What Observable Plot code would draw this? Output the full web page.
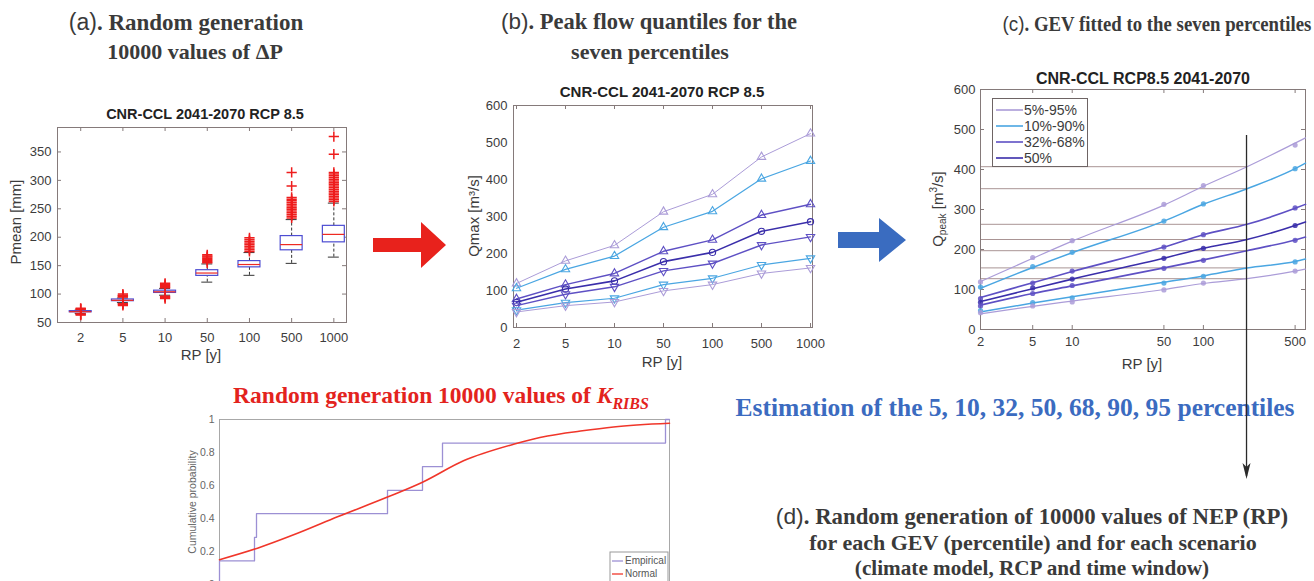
<!DOCTYPE html>
<html>
<head>
<meta charset="utf-8">
<script src="https://cdn.jsdelivr.net/npm/d3@7"></script>
<script src="https://cdn.jsdelivr.net/npm/@observablehq/plot@0.6"></script>
<style>
  body { margin: 0; background: #fff; }
  #page { position: relative; width: 1314px; height: 581px; overflow: hidden; background: #fff; }
  .txt { position: absolute; transform: translate(-50%, -50%); white-space: nowrap; line-height: 1;
         font-family: "Liberation Serif", "Times New Roman", serif; font-weight: bold; color: #3a3a3a; }
  .tag { font-family: "Liberation Sans", Arial, sans-serif; font-weight: normal; }
  .blue { color: #3b6bc0; }
  .red { color: #e3231d; }
  .legend { position: absolute; background: #fff; border: 1px solid #6e6464; box-sizing: border-box;
            font-family: "Liberation Sans", Arial, sans-serif; color: #3c3c3c; }
  .legend .row { position: absolute; left: 0; right: 0; height: 16px; display: flex; align-items: center; }
  .legend svg { flex: none; }
</style>
</head>
<body>
<div id="page"></div>
<script>
// ---------- (a) ΔP box plots per return period, mm ----------
const rpLabels = ["2", "5", "10", "50", "100", "500", "1000"];
const pMedian = [69, 89, 104, 137, 152, 187, 205];
const pQ1 = [68, 87.5, 102, 132, 147, 177, 191];
const pQ3 = [70, 90.5, 106, 142, 158, 202, 220];
const pWhiskerLow = [66, 85, 98, 121, 133, 154, 165];
const pWhiskerHigh = [72, 93, 110, 153, 173, 231, 260];
const pOutliers2 = [63, 64, 65, 73, 74, 75];
const pOutliers5 = [80, 82, 83, 95, 96, 97, 98, 100];
const pOutliers10 = [92, 94, 96, 111, 113, 115, 117, 119];
const pOutliers50 = [155, 157, 159, 161, 163, 165, 167, 169];
const pOutliers100 = [175, 178, 181, 184, 187, 190, 193, 196, 199];
const pOutliers500 = [234, 237, 240, 243, 246, 249, 252, 255, 258, 261, 264, 267, 270, 290, 314];
const pOutliers1000 = [263, 266, 269, 272, 275, 278, 281, 284, 287, 290, 293, 296, 299, 302, 305, 308, 311, 314, 346, 377];
const pOutliers = [pOutliers2, pOutliers5, pOutliers10, pOutliers50, pOutliers100, pOutliers500, pOutliers1000];
const pTicks = [50, 100, 150, 200, 250, 300, 350];

// ---------- (b) peak flow quantiles, m3/s ----------
const qmax95 = [119, 180, 222, 313, 360, 461, 524];
const qmax90 = [106, 157, 193, 271, 314, 402, 450];
const qmax68 = [77, 116, 146, 206, 237, 304, 333];
const qmax50 = [68, 104, 126, 178, 203, 260, 286];
const qmax32 = [59, 90, 110, 153, 173, 223, 245];
const qmax10 = [47, 67, 79, 116, 133, 169, 187];
const qmax5 = [42, 59, 69, 99, 116, 146, 161];
const qTicks = [0, 100, 200, 300, 400, 500, 600];

// ---------- (c) GEV fits, m3/s ----------
const rpNumeric = [2, 5, 10, 50, 100, 500];
const gevRP = [2, 5, 10, 50, 100, 215, 500, 600];
const gev95 = [120, 178, 221, 311, 358, 407, 466, 479];
const gev90 = [103, 155, 192, 271, 313, 352, 402, 416];
const gev68 = [80, 117, 145, 206, 237, 263, 303, 313];
const gev50 = [70, 102, 126, 178, 203, 225, 260, 269];
const gev32 = [61, 90, 109, 154, 174, 197, 224, 231];
const gev10 = [44, 66, 82, 118, 134, 154, 170, 176];
const gev5 = [39, 58, 71, 100, 115, 127, 146, 151];
const selectedRP = 215;
const legendLabels = ["5%-95%", "10%-90%", "32%-68%", "50%"];

// ---------- K_RIBS cumulative distribution ----------
const kSorted = [0.700, 0.735, 0.737, 0.868, 0.903, 0.923, 1.146];
const ecdfLevels = [0.143, 0.286, 0.429, 0.571, 0.714, 0.857, 1];
const kNormal = [0.700, 0.738, 0.778, 0.818, 0.868, 0.903, 0.944, 0.994, 1.028, 1.061, 1.094, 1.150];
const pNormal = [0.15, 0.22, 0.31, 0.41, 0.53, 0.62, 0.75, 0.85, 0.90, 0.93, 0.955, 0.977];
const cdfTicks = [0, 0.2, 0.4, 0.6, 0.8, 1];

// ---------- styling ----------
const sans = '"Liberation Sans", Arial, sans-serif';
const frameColor = "#857a7a";
const inkColor = "#3c3c3c";
const cLav = "#ab9cd8", cSky = "#4aa6e2", cPurple = "#5e50c4", cDeep = "#3a2eaa";
const baseStyle = { fontFamily: sans, fontSize: "13px", color: inkColor, background: "transparent", overflow: "visible" };

const page = document.getElementById("page");
function place(node, left, top) {
  node.style.position = "absolute";
  node.style.left = left + "px";
  node.style.top = top + "px";
  page.appendChild(node);
  return node;
}
function svgText(svg, x, y, text, { size = 15, weight = "normal", rotate = 0, fill = inkColor } = {}) {
  return d3.select(svg).append("text")
    .attr("transform", `translate(${x},${y}) rotate(${rotate})`)
    .attr("text-anchor", "middle").attr("dominant-baseline", "middle")
    .attr("font-family", sans).attr("font-size", size).attr("font-weight", weight)
    .attr("fill", fill).text(text);
}
// short inward tick marks on all four sides of a frame
function frameTicks(xTicks, yTicks, xDom, yDom, tick = 4) {
  const o = { stroke: frameColor, strokeWidth: 1 };
  return [
    Plot.ruleX(xTicks, { x: d => d, y1: yDom[0], y2: yDom[0], ...o, insetTop: -tick }),
    Plot.ruleX(xTicks, { x: d => d, y1: yDom[1], y2: yDom[1], ...o, insetBottom: -tick }),
    Plot.ruleY(yTicks, { y: d => d, x1: xDom[0], x2: xDom[0], ...o, insetRight: -tick }),
    Plot.ruleY(yTicks, { y: d => d, x1: xDom[1], x2: xDom[1], ...o, insetLeft: -tick })
  ];
}

// downward-pointing triangle for the lower percentiles
const triangleDown = {
  draw(context, size) {
    const y = -Math.sqrt(size / (Math.sqrt(3) * 3));
    context.moveTo(0, -y * 2);
    context.lineTo(-Math.sqrt(3) * y, y);
    context.lineTo(Math.sqrt(3) * y, y);
    context.closePath();
  }
};

// ================= (a) box plots =================
const positions = rpLabels.map((_, i) => i + 1);
const boxRows = positions.map((pos, i) => ({
  pos, q1: pQ1[i], q3: pQ3[i], med: pMedian[i], lo: pWhiskerLow[i], hi: pWhiskerHigh[i]
}));
const outlierRows = pOutliers.flatMap((vals, i) => vals.map(v => ({ pos: i + 1, v })));
const boxHalf = 0.26, capHalf = 0.13;
const xDomainA = [0.45, 7.3], yDomainA = [50, 393];

const plotA = Plot.plot({
  width: 360, height: 270,
  marginLeft: 57, marginTop: 27, marginRight: 14, marginBottom: 48,
  style: baseStyle,
  x: { domain: xDomainA },
  y: { domain: yDomainA },
  marks: [
    Plot.frame({ stroke: frameColor }),
    ...frameTicks(positions, pTicks, xDomainA, yDomainA),
    Plot.axisX({ ticks: positions, tickFormat: d => rpLabels[d - 1], tickSize: 0, tickPadding: 10, label: null }),
    Plot.axisY({ ticks: pTicks, tickSize: 0, tickPadding: 6, label: null }),
    Plot.ruleX(boxRows, { x: "pos", y1: "lo", y2: "q1", stroke: "#333", strokeDasharray: "3,2" }),
    Plot.ruleX(boxRows, { x: "pos", y1: "q3", y2: "hi", stroke: "#333", strokeDasharray: "3,2" }),
    Plot.ruleY(boxRows, { y: "lo", x1: d => d.pos - capHalf, x2: d => d.pos + capHalf, stroke: "#333" }),
    Plot.ruleY(boxRows, { y: "hi", x1: d => d.pos - capHalf, x2: d => d.pos + capHalf, stroke: "#333" }),
    Plot.rect(boxRows, { x1: d => d.pos - boxHalf, x2: d => d.pos + boxHalf, y1: "q1", y2: "q3", fill: "white", stroke: "#4d4dd2", strokeWidth: 1.2 }),
    Plot.ruleY(boxRows, { y: "med", x1: d => d.pos - boxHalf, x2: d => d.pos + boxHalf, stroke: "#ee2a22", strokeWidth: 1.2 }),
    Plot.dot(outlierRows, { x: "pos", y: "v", symbol: "plus", r: 3.4, stroke: "#ee1d1d", strokeWidth: 1.5 })
  ]
});
place(plotA, 0, 100);
svgText(plotA, 205, 15, "CNR-CCL 2041-2070 RCP 8.5", { size: 14.5, weight: "bold", fill: "#222" });
svgText(plotA, 201, 256, "RP [y]");
svgText(plotA, 17, 122, "Pmean [mm]", { rotate: -90 });

// ================= (b) quantile lines =================
const qSeries = [
  { values: qmax95, color: cLav, symbol: "triangle", width: 1 },
  { values: qmax90, color: cSky, symbol: "triangle", width: 1.2 },
  { values: qmax68, color: cPurple, symbol: "triangle", width: 1.4 },
  { values: qmax50, color: cDeep, symbol: "circle", width: 1.6 },
  { values: qmax32, color: cPurple, symbol: triangleDown, width: 1.4 },
  { values: qmax10, color: cSky, symbol: triangleDown, width: 1.2 },
  { values: qmax5, color: cLav, symbol: triangleDown, width: 1 }
];
const qRows = s => rpLabels.map((rp, i) => ({ rp, q: s.values[i] }));

const plotB = Plot.plot({
  width: 370, height: 300,
  marginLeft: 53, marginTop: 25, marginRight: 18, marginBottom: 53,
  style: baseStyle,
  x: { type: "point", domain: rpLabels, padding: 0 },
  y: { domain: [0, 600] },
  marks: [
    Plot.frame({ stroke: frameColor }),
    ...frameTicks(rpLabels, qTicks, [rpLabels[0], rpLabels[rpLabels.length - 1]], [0, 600]),
    Plot.axisX({ tickSize: 0, tickPadding: 11, label: null }),
    Plot.axisY({ ticks: qTicks, tickSize: 0, tickPadding: 6, label: null }),
    ...qSeries.flatMap(s => [
      Plot.line(qRows(s), { x: "rp", y: "q", stroke: s.color, strokeWidth: s.width }),
      Plot.dot(qRows(s), { x: "rp", y: "q", symbol: s.symbol, r: 3.1, stroke: s.color, fill: "none", strokeWidth: 1.1 })
    ])
  ]
});
place(plotB, 460, 80);
svgText(plotB, 202, 13, "CNR-CCL 2041-2070 RCP 8.5", { size: 15, weight: "bold", fill: "#222" });
svgText(plotB, 202, 283, "RP [y]");
svgText(plotB, 15, 136, "Qmax [m³/s]", { rotate: -90 });

// ================= (c) GEV fits =================
const gSeries = [
  { fit: gev95, obs: qmax95, color: cLav, width: 1.2 },
  { fit: gev90, obs: qmax90, color: cSky, width: 1.5 },
  { fit: gev68, obs: qmax68, color: cPurple, width: 1.6 },
  { fit: gev50, obs: qmax50, color: cDeep, width: 1.6 },
  { fit: gev32, obs: qmax32, color: cPurple, width: 1.6 },
  { fit: gev10, obs: qmax10, color: cSky, width: 1.5 },
  { fit: gev5, obs: qmax5, color: cLav, width: 1.2 }
];
const selIndex = gevRP.indexOf(selectedRP);
const selRows = gSeries.map(s => ({ q: s.fit[selIndex] }));

const plotC = Plot.plot({
  width: 384, height: 320,
  marginLeft: 50, marginTop: 29, marginRight: 9, marginBottom: 51,
  style: baseStyle,
  x: { type: "log", domain: [2, 600], axis: null },
  y: { domain: [0, 600] },
  marks: [
    Plot.ruleY(selRows, { y: "q", x1: 2, x2: selectedRP, stroke: "#a99494", strokeWidth: 1 }),
    Plot.frame({ stroke: frameColor }),
    ...frameTicks(rpNumeric, qTicks, [2, 600], [0, 600]),
    // return-period labels under the log axis
    Plot.text(rpNumeric, { x: d => d, text: d => String(d), frameAnchor: "bottom", dy: 16 }),
    Plot.axisY({ ticks: qTicks, tickSize: 0, tickPadding: 5, label: null }),
    ...gSeries.flatMap(s => [
      Plot.line(gevRP.map((rp, i) => ({ rp, q: s.fit[i] })), { x: "rp", y: "q", curve: "monotone-x", stroke: s.color, strokeWidth: s.width }),
      Plot.dot(rpNumeric.map((rp, i) => ({ rp, q: s.obs[i] })), { x: "rp", y: "q", r: 2.6, fill: s.color, fillOpacity: 0.85 })
    ])
  ]
});
place(plotC, 930, 60);
svgText(plotC, 213, 20, "CNR-CCL RCP8.5 2041-2070", { size: 16, weight: "bold", fill: "#222" });
svgText(plotC, 212, 305, "RP [y]");
{
  const lab = d3.select(plotC).append("text")
    .attr("transform", "translate(9,149) rotate(-90)")
    .attr("text-anchor", "middle").attr("dominant-baseline", "middle")
    .attr("font-family", sans).attr("font-size", 15).attr("fill", inkColor);
  lab.append("tspan").text("Q");
  lab.append("tspan").attr("font-size", 10).attr("dy", 4).text("peak");
  lab.append("tspan").attr("dy", -4).text(" [m");
  lab.append("tspan").attr("font-size", 10).attr("dy", -5).text("3");
  lab.append("tspan").attr("dy", 5).text("/s]");
}

// legend of panel (c)
{
  const leg = document.createElement("div");
  leg.className = "legend";
  leg.style.width = "96px"; leg.style.height = "69px";
  const legColors = [cLav, cSky, cPurple, cDeep];
  legendLabels.forEach((label, i) => {
    const row = document.createElement("div");
    row.className = "row";
    row.style.top = (3 + i * 16) + "px";
    row.innerHTML = `<svg width="30" height="4"><line x1="3" x2="30" y1="2" y2="2" stroke="${legColors[i]}" stroke-width="1.6"/></svg>` +
      `<span style="font-size:14px;margin-left:1px">${label}</span>`;
    leg.appendChild(row);
  });
  place(leg, 992, 98);
}

// ================= K_RIBS cumulative probability =================
const ecdfRows = [{ k: kSorted[0], p: 0 }]
  .concat(kSorted.map((k, i) => ({ k, p: ecdfLevels[i] })))
  .concat([{ k: 1.15, p: 1 }]);
const normalRows = kNormal.map((k, i) => ({ k, p: pNormal[i] }));

const plotD = Plot.plot({
  width: 500, height: 200,
  marginLeft: 39, marginTop: 19, marginRight: 11, marginBottom: 16,
  style: { ...baseStyle, fontSize: "10.5px", color: "#666" },
  x: { domain: [0.70, 1.15], axis: null },
  y: { domain: [0, 1] },
  marks: [
    Plot.frame({ stroke: "#a8a8a8" }),
    Plot.axisY({ ticks: cdfTicks, tickFormat: d => String(d), tickSize: 0, tickPadding: 5, label: null }),
    Plot.line(ecdfRows, { x: "k", y: "p", curve: "step-after", stroke: "#9c90d4", strokeWidth: 1.3 }),
    Plot.line(normalRows, { x: "k", y: "p", curve: "monotone-x", stroke: "#f0362a", strokeWidth: 1.6 })
  ]
});
place(plotD, 180, 400);
svgText(plotD, 13, 102, "Cumulative probability", { size: 10.5, rotate: -90, fill: "#666" });
{
  const g = d3.select(plotD).append("g").attr("font-family", sans).attr("font-size", 10).attr("fill", "#555");
  g.append("rect").attr("x", 430).attr("y", 152).attr("width", 58).attr("height", 32).attr("fill", "#fff").attr("stroke", "#999");
  [["Empirical", "#9c90d4", 161], ["Normal", "#f0362a", 174]].forEach(([t, c, y]) => {
    g.append("line").attr("x1", 432).attr("x2", 443).attr("y1", y).attr("y2", y).attr("stroke", c).attr("stroke-width", 1.3);
    g.append("text").attr("x", 445).attr("y", y).attr("text-anchor", "start").attr("dominant-baseline", "middle").text(t);
  });
}

// ================= headings and notes =================
const notes = [
  { html: '<span class="tag">(a)</span>. Random generation', x: 186, y: 22, size: 23 },
  { html: '10000 values of ΔP', x: 195, y: 52, size: 22 },
  { html: '<span class="tag">(b)</span>. Peak flow quantiles for the', x: 649, y: 22, size: 22.5 },
  { html: 'seven percentiles', x: 650, y: 52, size: 22 },
  { html: '<span class="tag">(c)</span>. GEV fitted to the seven percentiles', x: 1157, y: 24, size: 21, squeeze: 0.895 },
  { html: 'Random generation 10000 values of <i>K</i><sub style="font-size:16px"><i>RIBS</i></sub>', x: 441, y: 398, size: 23.5, cls: "red" },
  { html: 'Estimation of the 5, 10, 32, 50, 68, 90, 95 percentiles', x: 1015, y: 408, size: 25.5, cls: "blue" },
  { html: '<span class="tag">(d)</span>. Random generation of 10000 values of NEP (RP)', x: 1032, y: 517, size: 22.8 },
  { html: 'for each GEV (percentile) and for each scenario', x: 1033, y: 543, size: 22 },
  { html: '(climate model, RCP and time window)', x: 1032, y: 569, size: 21.2 }
];
notes.forEach(n => {
  const d = document.createElement("div");
  d.className = "txt " + (n.cls || "");
  d.innerHTML = n.html;
  d.style.fontSize = n.size + "px";
  d.style.left = n.x + "px";
  d.style.top = n.y + "px";
  if (n.squeeze) d.style.transform = `translate(-50%, -50%) scaleX(${n.squeeze})`;
  page.appendChild(d);
});

// ================= flow arrows =================
const overlay = d3.select(page).append("svg")
  .attr("width", 1314).attr("height", 581)
  .style("position", "absolute").style("left", 0).style("top", 0).style("pointer-events", "none");
overlay.append("path").attr("d", "M373,238H421V222L446,245L421,268V252H373Z").attr("fill", "#e8221c");
overlay.append("path").attr("d", "M838,232H879V218L906,240L879,262V248H838Z").attr("fill", "#3a6cc0");
const xSel = 930 + plotC.scale("x").apply(selectedRP);
overlay.append("line").attr("x1", xSel).attr("x2", xSel).attr("y1", 135).attr("y2", 476)
  .attr("stroke", "#2a2a2a").attr("stroke-width", 1.3);
overlay.append("path").attr("d", `M${xSel - 4},463L${xSel},479L${xSel + 4},463L${xSel},467Z`).attr("fill", "#2a2a2a");
</script>
</body>
</html>
